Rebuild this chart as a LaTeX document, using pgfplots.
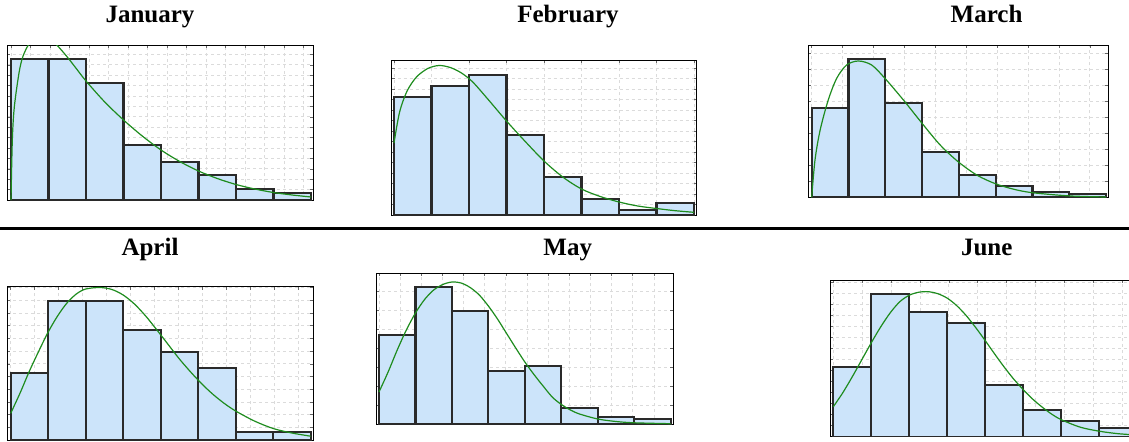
\documentclass[border=0pt]{standalone}
\usepackage{fontspec}
\setmainfont{Liberation Serif}
\usepackage{pgfplots}
\usepackage{pgfplotstable}
\pgfplotsset{compat=1.18}

\definecolor{barfill}{HTML}{CCE4FA}
\definecolor{baredge}{HTML}{2A2A2A}
\definecolor{fitgreen}{HTML}{1E8C1E}

\pgfplotsset{
  panel/.style={
    scale only axis, anchor=south west,
    ymin=0,
    axis line style={black, line width=0.5pt},
    xticklabels={}, yticklabels={},
    tick align=inside, major tick length=1.5pt,
    tick style={black!60, line width=0.3pt},
    grid=major,
    grid style={black!14, dash pattern=on 1.5pt off 1.5pt, line width=0.4pt},
  },
  barfill/.style={ybar interval, fill=barfill, draw=none},
  baredge/.style={ybar interval, fill=none, draw=baredge, line width=1.1pt},
  fit/.style={smooth, fitgreen, line width=0.6pt, mark=none},
}

\newcommand\paneltitle[2]{\node[anchor=base, font=\fontsize{12.5}{15}\selectfont\bfseries] at (#1) {#2};}

% bar heights, one table per month
\pgfplotstableread{
x h
0 141
1 141
2 117
3 55
4 38
5 25
6 11
7 7
8 7
}\jan
\pgfplotstableread{
x h
0 118.3
1 129.3
2 140.3
3 80
4 38.3
5 15.7
6 5
7 12.3
8 12.3
}\feb
\pgfplotstableread{
x h
0 89.6
1 138.3
2 94.3
3 45.3
4 22.3
5 11.6
6 5.6
7 3.6
8 3.6
}\mar
\pgfplotstableread{
x h
0 67.3
1 139.3
2 139.3
3 110
4 88.3
5 71.7
6 7.7
7 7.7
8 7.7
}\apr
\pgfplotstableread{
x h
0 89
1 137.3
2 113
3 53
4 58.3
5 16.3
6 7.3
7 4.7
8 4.7
}\may
\pgfplotstableread{
x h
0 70
1 142.4
2 124.4
3 113.4
4 51.7
5 26.4
6 15.7
7 8.4
8 8.4
}\jun

\begin{document}
\begin{tikzpicture}

% January
\begin{axis}[panel, at={(3.5pt,120.5pt)}, width=153pt, height=77.5pt,
  xmin=-0.107, xmax=8.053, ymax=155, xtick distance=0.52, ytick distance=10.4]
  \addplot[barfill] table[x=x,y=h] {\jan};
  \addplot[baredge] table[x=x,y=h] {\jan};
  \addplot[fit] coordinates {(0,0) (0.035,60) (0.088,93) (0.213,127) (0.312,143) (0.461,155) (0.6,161)
    (0.8,164) (1.0,161.5) (1.22,155) (1.5,143) (1.75,131) (2.0,119) (2.5,98) (3.0,80) (3.5,64) (4.0,50)
    (4.5,38.5) (5.0,29) (5.5,21.5) (6.0,15.5) (6.5,11) (7.0,7.5) (7.5,5) (8.0,3)};
\end{axis}

% February
\begin{axis}[panel, at={(195.85pt,113pt)}, width=152.5pt, height=77.5pt,
  xmin=-0.061, xmax=8.072, ymax=155, xtick distance=1, ytick distance=10.5]
  \addplot[barfill] table[x=x,y=h] {\feb};
  \addplot[baredge] table[x=x,y=h] {\feb};
  \addplot[fit] coordinates {(0,72) (0.15,103) (0.35,124) (0.6,138) (0.9,146.5) (1.2,149.5) (1.5,147.5)
    (1.8,142) (2.1,133) (2.5,116) (3.0,94) (3.5,73.5) (4.0,54) (4.5,38) (5.0,26) (5.5,18.5) (6.0,13)
    (6.5,9) (7.0,6.5) (7.5,4.3) (8.0,2.7)};
\end{axis}

% March
\begin{axis}[panel, at={(404.15pt,121.85pt)}, width=150pt, height=76.15pt,
  xmin=-0.092, xmax=8.063, ymax=152.3, xtick distance=0.84, ytick distance=16]
  \addplot[barfill] table[x=x,y=h] {\mar};
  \addplot[baredge] table[x=x,y=h] {\mar};
  \addplot[fit] coordinates {(0,0) (0.09,37.3) (0.23,67.3) (0.45,97.3) (0.68,119) (0.95,132.3) (1.27,136.3)
    (1.63,132.3) (1.99,119) (2.5,97) (3.0,74) (3.5,52) (4.0,35) (4.5,22) (5.0,13.5) (5.5,8) (6.0,4.6)
    (7.0,1.4) (8.0,0.3)};
\end{axis}

% April
\begin{axis}[panel, at={(3.65pt,0.5pt)}, width=153pt, height=76.65pt,
  xmin=-0.091, xmax=8.071, ymax=153.3, xtick distance=0.64, ytick distance=12.7]
  \addplot[barfill] table[x=x,y=h] {\apr};
  \addplot[baredge] table[x=x,y=h] {\apr};
  \addplot[fit] coordinates {(0,26.7) (0.25,47) (0.5,69) (0.75,89) (1.0,108) (1.25,124) (1.5,137) (1.75,146)
    (2.0,151) (2.38,152.5) (2.7,150.5) (3.0,145) (3.3,136) (3.6,124) (3.9,110) (4.2,95.5) (4.5,81) (4.8,68)
    (5.1,56) (5.4,45.5) (5.7,36.5) (6.0,29) (6.5,19) (7.0,11.5) (7.5,7) (8.0,3.8)};
\end{axis}

% May
\begin{axis}[panel, at={(188pt,8.5pt)}, width=148.65pt, height=75.35pt,
  xmin=-0.082, xmax=8.071, ymax=150.7, xtick distance=0.58, ytick distance=19]
  \addplot[barfill] table[x=x,y=h] {\may};
  \addplot[baredge] table[x=x,y=h] {\may};
  \addplot[fit] coordinates {(0,32) (0.25,52) (0.5,74) (0.75,94) (1.0,111) (1.25,124.5) (1.5,134) (1.75,139.5)
    (2.0,142) (2.25,141) (2.5,136.5) (2.75,129) (3.0,118) (3.25,105) (3.5,90.5) (3.75,76) (4.0,62) (4.25,49.5)
    (4.5,38) (4.75,27) (5.0,19.5) (5.25,14) (5.5,10) (6.0,5) (6.5,2.5) (7.0,1.2) (8.0,0.3)};
\end{axis}

% June
\begin{axis}[panel, at={(415pt,2.15pt)}, width=154.65pt, height=78.35pt,
  xmin=-0.087, xmax=8.053, ymax=156.7, xtick distance=0.76, ytick distance=11]
  \addplot[barfill] table[x=x,y=h] {\jun};
  \addplot[baredge] table[x=x,y=h] {\jun};
  \addplot[fit] coordinates {(0,30) (0.25,44) (0.5,60) (0.75,77) (1.0,94) (1.25,110) (1.5,124) (1.75,135)
    (2.0,141.5) (2.25,144.5) (2.5,145) (2.75,143) (3.0,138.5) (3.25,131) (3.5,121) (3.75,109) (4.0,96)
    (4.25,82.5) (4.5,69.5) (4.75,57.5) (5.0,47) (5.25,37.5) (5.5,29.5) (5.75,22.5) (6.0,17) (6.5,9.5)
    (7.0,5.5) (7.5,3) (8.0,1.7)};
\end{axis}

\paneltitle{75pt,209.25pt}{January}
\paneltitle{284pt,209.25pt}{February}
\paneltitle{493.3pt,209.25pt}{March}
\paneltitle{75pt,92.65pt}{April}
\paneltitle{283.85pt,92.65pt}{May}
\paneltitle{493.35pt,92.65pt}{June}

\draw[black, line width=1.5pt] (0pt,106.25pt) -- (564.5pt,106.25pt);

\pgfresetboundingbox
\path[use as bounding box] (0pt,0pt) rectangle (564.5pt,220.5pt);
\end{tikzpicture}
\end{document}
